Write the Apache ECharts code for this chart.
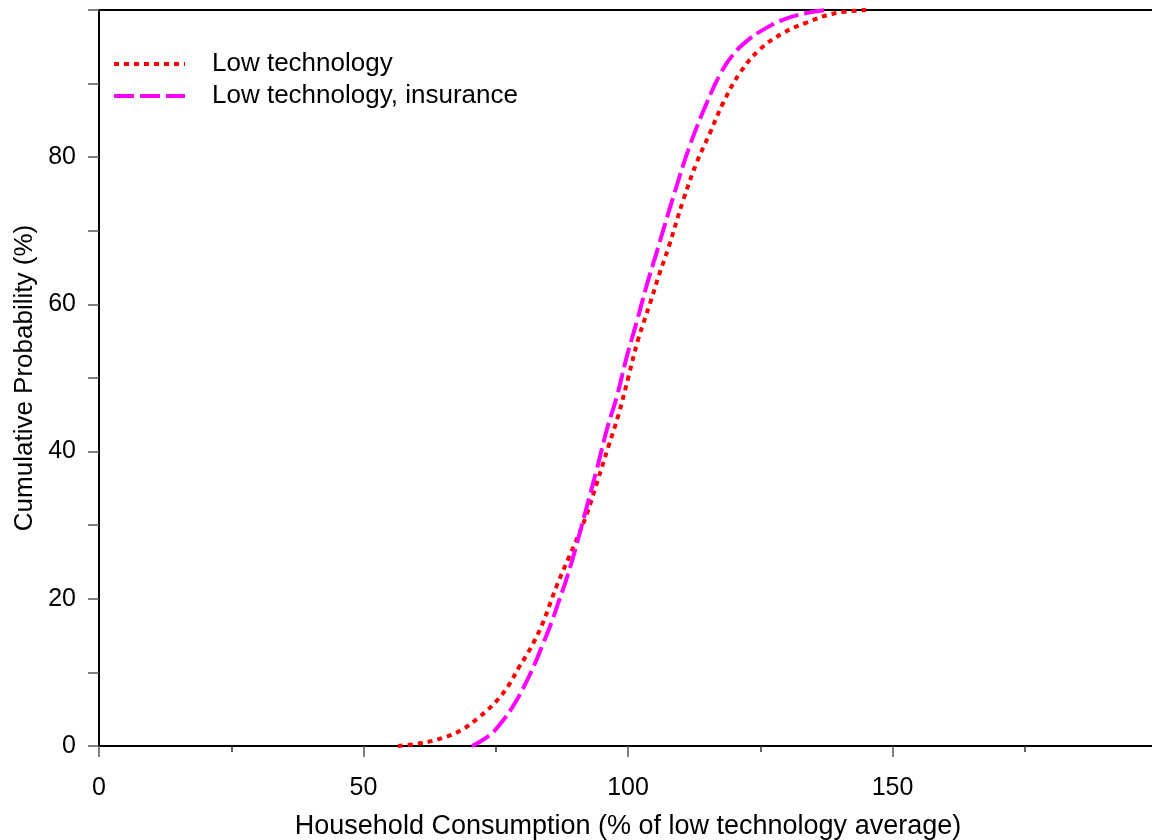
<!DOCTYPE html>
<html>
<head>
<meta charset="utf-8">
<script src="https://cdn.jsdelivr.net/npm/echarts@6/dist/echarts.min.js"></script>
<style>html,body{margin:0;padding:0;background:#fff}#c{width:1152px;height:840px}</style>
</head>
<body>
<div id="c"></div>
<script>
var seriesNames = ['Low technology', 'Low technology, insurance'];
var lowTech = [[56.5,0],[61,0.4],[65,1.1],[68.6,2.2],[72,4],[75,6],[77.4,8.2],[79.3,10.6],[80.7,12.2],[82.4,14.4],[84,16.9],[85.3,19.4],[86.6,21.9],[88.8,25.6],[90.5,28.4],[92.2,31.5],[94.1,35.7],[96.3,40.7],[98.2,45],[100.1,50.2],[101.9,55.2],[104.2,60.2],[106,64.3],[107.6,67.6],[110.5,74.3],[113,79.3],[115.5,83.3],[118,87.4],[121.2,91.5],[125,94.7],[129.4,96.9],[133.8,98.3],[138.8,99.5],[145,100]];
var lowTechIns = [[70.5,0],[73.9,1.5],[76.4,3.5],[78.6,5.8],[80.5,8.3],[82.4,11.2],[84,14],[85.6,16.9],[86.8,19.4],[88.1,22.1],[89.4,25.1],[90.6,28.2],[91.9,31.7],[94.1,37.6],[96,43],[97.9,47.5],[99.8,53],[101.6,57.5],[103.5,62.5],[105.3,66.8],[108.6,74.7],[111.7,81.6],[114.9,87.4],[117.5,91.4],[119.8,93.9],[122.5,95.8],[125.5,97.3],[129.4,98.7],[133.8,99.6],[137.5,100]];
var xTicks = {min: 0, max: 200, interval: 50};
var yTicks = {min: 0, max: 100, interval: 20};

var font = '"Liberation Sans", Arial, sans-serif';
var chart = echarts.init(document.getElementById('c'), null, {renderer: 'canvas'});
chart.setOption({
  animation: false,
  backgroundColor: '#fff',
  grid: {left: 99, top: 10, width: 1058, height: 736, outerBoundsMode: 'none', show: true, borderColor: '#000', borderWidth: 2, containLabel: false},
  legend: {
    left: 107, top: 46, orient: 'vertical', itemWidth: 71, itemHeight: 20, itemGap: 6,
    data: seriesNames,
    itemStyle: {opacity: 0},
    lineStyle: {width: 4},
    textStyle: {fontFamily: font, fontSize: 26, color: '#000', padding: [0, 0, 0, 22]}
  },
  xAxis: {
    type: 'value', min: xTicks.min, max: xTicks.max, interval: xTicks.interval,
    name: 'Household Consumption (% of low technology average)',
    nameLocation: 'middle', nameGap: 67, nameMoveOverlap: false,
    nameTextStyle: {fontFamily: font, fontSize: 27, color: '#000'},
    axisLine: {show: true, onZero: false, lineStyle: {color: '#000', width: 2}},
    axisTick: {show: true, inside: false, length: 11, lineStyle: {color: '#555', width: 1.5}},
    minorTick: {show: true, splitNumber: 2, length: 6, lineStyle: {color: '#333', width: 1.5}},
    axisLabel: {fontFamily: font, fontSize: 25, color: '#000', margin: 30, showMaxLabel: false},
    splitLine: {show: false}
  },
  yAxis: {
    type: 'value', min: yTicks.min, max: yTicks.max, interval: yTicks.interval,
    name: 'Cumulative Probability (%)',
    nameLocation: 'middle', nameGap: 61, nameMoveOverlap: false,
    nameTextStyle: {fontFamily: font, fontSize: 26, color: '#000'},
    axisLine: {show: true, onZero: false, lineStyle: {color: '#000', width: 2}},
    axisTick: {show: true, inside: false, length: 11, lineStyle: {color: '#555', width: 1.5}},
    minorTick: {show: true, splitNumber: 2, length: 11, lineStyle: {color: '#555', width: 1.5}},
    axisLabel: {fontFamily: font, fontSize: 25, color: '#000', margin: 23, showMaxLabel: false},
    splitLine: {show: false}
  },
  series: [
    {
      name: seriesNames[0], type: 'line', data: lowTech, symbol: 'none', smooth: 0.4,
      lineStyle: {color: '#ff0000', width: 4, type: [5, 5]}, itemStyle: {color: '#ff0000'}, z: 2
    },
    {
      name: seriesNames[1], type: 'line', data: lowTechIns, symbol: 'none', smooth: 0.4,
      lineStyle: {color: '#ff00ff', width: 4, type: [20, 6]}, itemStyle: {color: '#ff00ff'}, z: 3
    }
  ]
});
</script>
</body>
</html>
